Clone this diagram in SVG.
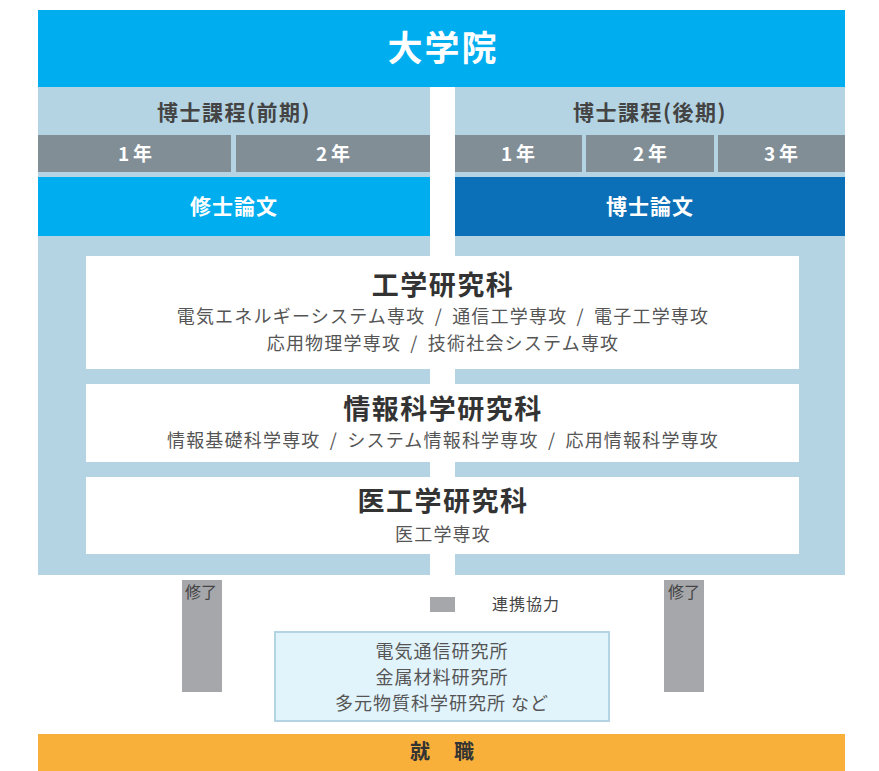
<svg xmlns="http://www.w3.org/2000/svg" width="879" height="771" viewBox="0 0 879 771">
<style>
text{font-family:"Noto Sans CJK JP","Noto Sans",sans-serif;text-anchor:middle}
.panel{fill:#b4d4e3}
.year{fill:#828e96}
.yt{fill:#fff;font-size:19px;font-weight:bold;letter-spacing:4px}
.hd{fill:#444;font-size:21px;font-weight:bold;letter-spacing:1.5px}
.th{fill:#fff;font-size:21px;font-weight:bold;letter-spacing:1px}
.box{fill:#fff}
.bt{fill:#333;font-size:27px;font-weight:bold;letter-spacing:1.5px}
.st{fill:#555;font-size:18px;letter-spacing:1.2px;word-spacing:4px}
.arr{fill:#a6a7ab}
.lbl{fill:#444;font-size:16px}
.it{fill:#555;font-size:18px;letter-spacing:1px}
</style>
<rect width="879" height="771" fill="#fff"/>
<g id="panels">
<rect class="panel" x="38" y="87" width="392" height="488"/>
<rect class="panel" x="455" y="87" width="390" height="488"/>
</g>
<g id="daigakuin">
<rect x="38" y="10" width="807" height="77" fill="#00aeef"/>
<text x="443" y="61" fill="#fff" font-size="35" font-weight="bold" style="letter-spacing:2px">大学院</text>
</g>
<g id="zenki">
<text class="hd" x="234" y="120">博士課程(前期)</text>
<rect class="year" x="38" y="135" width="193" height="37"/>
<rect class="year" x="236" y="135" width="194" height="37"/>
<text class="yt" x="137" y="161">1年</text>
<text class="yt" x="335" y="161">2年</text>
<rect x="38" y="177" width="392" height="59" fill="#00aeef"/>
<text class="th" x="234" y="214">修士論文</text>
</g>
<g id="kouki">
<text class="hd" x="650" y="120">博士課程(後期)</text>
<rect class="year" x="455" y="135" width="127" height="37"/>
<rect class="year" x="586" y="135" width="128" height="37"/>
<rect class="year" x="718" y="135" width="127" height="37"/>
<text class="yt" x="520" y="161">1年</text>
<text class="yt" x="652" y="161">2年</text>
<text class="yt" x="783" y="161">3年</text>
<rect x="455" y="177" width="390" height="59" fill="#0b70b7"/>
<text class="th" x="650" y="214">博士論文</text>
</g>
<g id="kougaku">
<rect class="box" x="86" y="256" width="713" height="113"/>
<text class="bt" x="443" y="295">工学研究科</text>
<text class="st" x="443" y="323">電気エネルギーシステム専攻 / 通信工学専攻 / 電子工学専攻</text>
<text class="st" x="443" y="350">応用物理学専攻 / 技術社会システム専攻</text>
</g>
<g id="jouhou">
<rect class="box" x="86" y="384" width="713" height="78"/>
<text class="bt" x="443" y="419">情報科学研究科</text>
<text class="st" x="443" y="447">情報基礎科学専攻 / システム情報科学専攻 / 応用情報科学専攻</text>
</g>
<g id="ikougaku">
<rect class="box" x="86" y="477" width="713" height="77"/>
<text class="bt" x="443" y="511">医工学研究科</text>
<text class="st" x="443" y="541">医工学専攻</text>
</g>
<g id="connectors">
<rect class="arr" x="182" y="580" width="40" height="112"/>
<text class="lbl" x="201" y="598">修了</text>
<rect class="arr" x="664" y="580" width="40" height="112"/>
<text class="lbl" x="684" y="598">修了</text>
<rect class="arr" x="430" y="597" width="25" height="15"/>
<text class="lbl" x="526" y="610" style="letter-spacing:1px">連携協力</text>
</g>
<g id="kenkyusho">
<rect x="275" y="632" width="334" height="89" fill="#e1f3fb" stroke="#b4d4e3" stroke-width="2"/>
<text class="it" x="442" y="658">電気通信研究所</text>
<text class="it" x="442" y="684">金属材料研究所</text>
<text class="it" x="442" y="710">多元物質科学研究所 など</text>
</g>
<g id="shushoku">
<rect x="38" y="734" width="807" height="37" fill="#f9b03b"/>
<text x="443" y="759" fill="#333" font-size="20" font-weight="bold" style="letter-spacing:2px">就　職</text>
</g>
</svg>
